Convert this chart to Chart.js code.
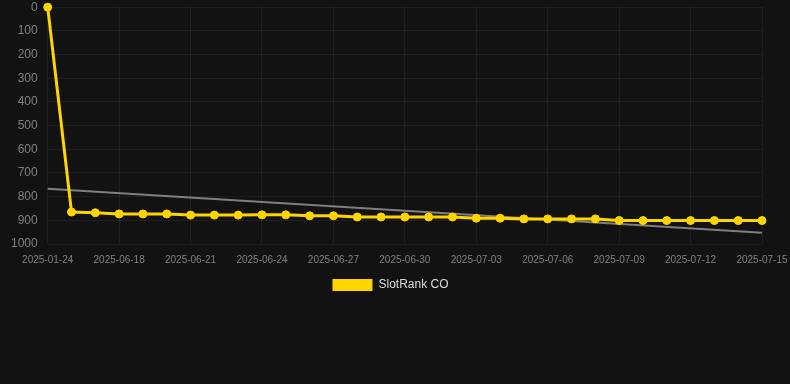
<!DOCTYPE html>
<html>
<head>
<meta charset="utf-8">
<script src="https://cdn.jsdelivr.net/npm/chart.js@4.4.1/dist/chart.umd.min.js"></script>
<style>
  html, body { margin: 0; padding: 0; background: #121212; overflow: hidden; width: 790px; height: 384px; }
  #wrap { width: 790px; height: 311px; position: relative; margin-top: -10px; }
</style>
</head>
<body>
<div id="wrap"><canvas id="c"></canvas></div>
<script>
const categories = [
  "2025-01-24","2025-06-16","2025-06-17","2025-06-18","2025-06-19","2025-06-20",
  "2025-06-21","2025-06-22","2025-06-23","2025-06-24","2025-06-25","2025-06-26",
  "2025-06-27","2025-06-28","2025-06-29","2025-06-30","2025-07-01","2025-07-02",
  "2025-07-03","2025-07-04","2025-07-05","2025-07-06","2025-07-07","2025-07-08",
  "2025-07-09","2025-07-10","2025-07-11","2025-07-12","2025-07-13","2025-07-14",
  "2025-07-15"
];
const slotRankValues = [
  0, 865, 868, 873, 873, 873, 878, 878, 878, 877, 877, 881, 881, 886, 886, 886,
  886, 886, 891, 891, 894, 894, 894, 894, 901, 901, 901, 901, 901, 901, 901
];
const trendStart = 767;
const trendEnd = 953;
const trendValues = categories.map((_, i) =>
  i === 0 ? trendStart : (i === categories.length - 1 ? trendEnd : null));
const yTicks = [0,100,200,300,400,500,600,700,800,900,1000];

new Chart(document.getElementById('c'), {
  type: 'line',
  data: {
    labels: categories,
    datasets: [
      {
        label: 'SlotRank CO',
        data: slotRankValues,
        borderColor: '#FFD500',
        backgroundColor: '#FFD500',
        borderWidth: 3,
        pointRadius: 4,
        pointBorderWidth: 1,
        pointHoverRadius: 4,
        pointBackgroundColor: '#FFD500',
        pointBorderColor: '#FFD500',
        tension: 0,
        clip: false
      },
      {
        label: 'trend',
        data: trendValues,
        spanGaps: true,
        borderColor: 'rgba(140,140,140,0.9)',
        borderWidth: 2,
        pointRadius: 0,
        fill: false
      }
    ]
  },
  options: {
    responsive: true,
    maintainAspectRatio: false,
    animation: false,
    layout: { padding: { left: 1, right: 10, top: 0, bottom: 0 } },
    plugins: {
      legend: {
        position: 'bottom',
        labels: {
          color: '#dddddd',
          font: { family: 'Liberation Sans, Arial', size: 12 },
          boxWidth: 40,
          boxHeight: 12,
          padding: 3,
          generateLabels: (chart) => Chart.defaults.plugins.legend.labels.generateLabels(chart)
            .filter(it => it.text !== 'trend')
            .map(it => Object.assign(it, { lineWidth: 0, strokeStyle: 'rgba(0,0,0,0)' }))
        }
      },
      tooltip: { enabled: false }
    },
    scales: {
      x: {
        afterFit: (scale) => { scale.paddingRight = 28; },
        grid: { color: 'rgba(255,255,255,0.05)', drawTicks: false },
        border: { display: false },
        ticks: {
          color: '#808080',
          font: { family: 'Liberation Sans, Arial', size: 10 },
          maxRotation: 0,
          autoSkip: true,
          padding: 10
        }
      },
      y: {
        reverse: true,
        min: 0,
        max: 1000,
        afterBuildTicks: (axis) => { axis.ticks = yTicks.map(v => ({ value: v })); },
        grid: { color: 'rgba(255,255,255,0.05)', drawTicks: false },
        border: { display: false },
        ticks: {
          color: '#808080',
          font: { family: 'Liberation Sans, Arial', size: 12 },
          padding: 10,
          callback: (v) => String(v)
        }
      }
    }
  }
});
</script>
</body>
</html>
